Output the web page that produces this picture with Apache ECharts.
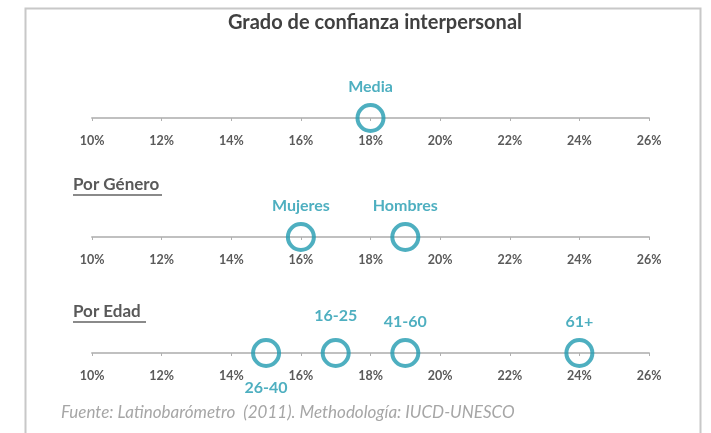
<!DOCTYPE html>
<html>
<head>
<meta charset="utf-8">
<script src="https://cdn.jsdelivr.net/npm/echarts@6/dist/echarts.min.js"></script>
<style>
  html, body { margin: 0; padding: 0; background: #fff; }
  #main { width: 711px; height: 433px; }
</style>
</head>
<body>
<div id="main"></div>
<script>
    "use strict";

    // tick range shared by the three axes (percent)
    var axisMin = 10, axisMax = 26, axisStep = 2;

    var mediaNames = ['Media'];
    var mediaValues = [18];

    var generoNames = ['Mujeres', 'Hombres'];
    var generoValues = [16, 19];

    var edadNames = ['26-40', '16-25', '41-60', '61+'];
    var edadValues = [15, 17, 19, 24];

    var teal = '#229bb0';
    var font = 'Lato';

    // label placement for each point (distance above, or below for 26-40)
    var labelOffset = {
        'Media': ['top', 8],
        'Mujeres': ['top', 8],
        'Hombres': ['top', 8],
        '16-25': ['top', 14],
        '41-60': ['top', 8],
        '61+': ['top', 8],
        '26-40': ['bottom', 12]
    };

    var dom = document.getElementById('main');
    var myChart = echarts.init(dom);

    var axisTops = [100, 219, 335];   // grid tops, axis sits at top + 18

    function makeGrid(top) {
        return { left: 92, right: 62, top: top, height: 18 };
    }

    function makeX(i) {
        return {
            gridIndex: i,
            type: 'value',
            min: axisMin,
            max: axisMax,
            interval: axisStep,
            axisLine: { show: true, lineStyle: { color: '#c0c0c0', width: 2 } },
            axisTick: { show: true, length: 3, lineStyle: { color: '#b0b0b0' } },
            splitLine: { show: false },
            axisLabel: {
                formatter: '{value}%',
                color: '#5a5a5a',
                fontFamily: font,
                fontWeight: 'bold',
                fontSize: 12.5,
                margin: 16
            }
        };
    }

    function makeY(i) {
        return { gridIndex: i, type: 'value', min: 0, max: 1, show: false };
    }

    function makeSeries(i, names, values) {
        return {
            type: 'scatter',
            xAxisIndex: i,
            yAxisIndex: i,
            symbol: 'circle',
            symbolSize: 26,
            itemStyle: { color: 'rgba(0,0,0,0)', borderColor: teal, borderWidth: 4 },
            label: {
                show: true,
                formatter: '{b}',
                color: teal,
                fontFamily: font,
                fontWeight: 'bold',
                fontSize: 16
            },
            data: values.map(function (v, k) {
                var off = labelOffset[names[k]];
                return {
                    name: names[k],
                    value: [v, 0],
                    label: { position: off[0], distance: off[1] }
                };
            })
        };
    }

    var option = {
        animation: false,
        backgroundColor: '#fff',
        grid: axisTops.map(makeGrid),
        xAxis: [0, 1, 2].map(makeX),
        yAxis: [0, 1, 2].map(makeY),
        series: [
            makeSeries(0, mediaNames, mediaValues),
            makeSeries(1, generoNames, generoValues),
            makeSeries(2, edadNames, edadValues)
        ],
        graphic: [
            {
                type: 'rect',
                shape: { x: 25.5, y: 8.5, width: 675, height: 440 },
                style: { fill: 'none', stroke: '#c8c8c8', lineWidth: 2 }
            },
            {
                type: 'text', x: 375, y: 23,
                style: {
                    text: 'Grado de confianza interpersonal',
                    fill: '#404040', font: 'bold 20px ' + font,
                    textAlign: 'center', textVerticalAlign: 'middle'
                }
            },
            {
                type: 'text', x: 73, y: 185,
                style: {
                    text: 'Por Género',
                    fill: '#595959', font: 'bold 17px ' + font,
                    textVerticalAlign: 'middle'
                }
            },
            {
                type: 'line', shape: { x1: 73, y1: 195, x2: 162, y2: 195 },
                style: { stroke: '#8a8a8a', lineWidth: 2 }
            },
            {
                type: 'text', x: 73, y: 312,
                style: {
                    text: 'Por Edad',
                    fill: '#595959', font: 'bold 17px ' + font,
                    textVerticalAlign: 'middle'
                }
            },
            {
                type: 'line', shape: { x1: 73, y1: 322, x2: 146, y2: 322 },
                style: { stroke: '#8a8a8a', lineWidth: 2 }
            },
            {
                type: 'text', x: 61, y: 413,
                style: {
                    text: 'Fuente: Latinobarómetro  (2011). Methodología: IUCD-UNESCO',
                    fill: '#a6a6a6', font: 'italic 17px ' + font,
                    textVerticalAlign: 'middle'
                }
            }
        ]
    };

    if (option && typeof option === 'object') {
        myChart.setOption(option, true);
    }
</script>
</body>
</html>
